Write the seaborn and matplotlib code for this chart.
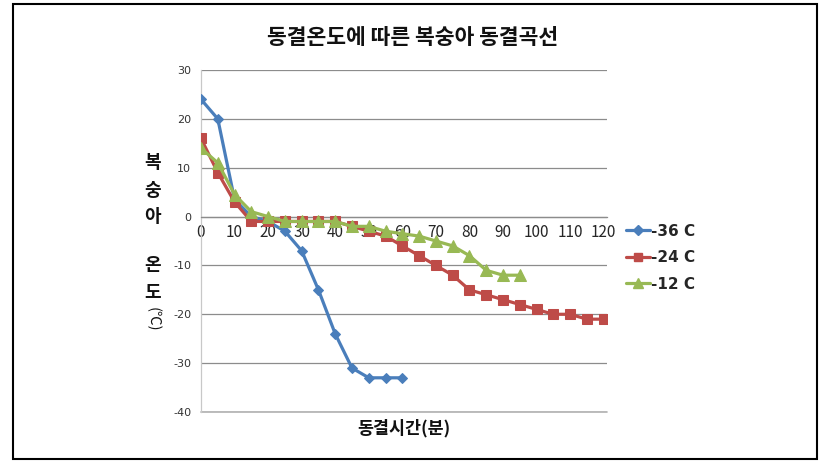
import matplotlib
matplotlib.use("Agg")
import matplotlib.pyplot as plt
import seaborn as sns
import pandas as pd
from matplotlib.lines import Line2D

# ---- data ----
series_names = ["-36 C", "-24 C", "-12 C"]
time_36 = [0, 5, 10, 15, 20, 25, 30, 35, 40, 45, 50, 55, 60]
temp_36 = [24, 20, 3.5, 0, -1, -3, -7, -15, -24, -31, -33, -33, -33]
time_24 = [0, 5, 10, 15, 20, 25, 30, 35, 40, 45, 50, 55, 60, 65, 70, 75, 80, 85,
           90, 95, 100, 105, 110, 115, 120]
temp_24 = [16, 9, 3, -1, -1, -1, -1, -1, -1, -2, -3, -4, -6, -8, -10, -12, -15,
           -16, -17, -18, -19, -20, -20, -21, -21]
time_12 = [0, 5, 10, 15, 20, 25, 30, 35, 40, 45, 50, 55, 60, 65, 70, 75, 80, 85, 90, 95]
temp_12 = [14, 11, 4.5, 1, 0, -1, -1, -1, -1, -2, -2, -3, -3.5, -4, -5, -6, -8,
           -11, -12, -12]
x_ticks = [0, 10, 20, 30, 40, 50, 60, 70, 80, 90, 100, 110, 120]
y_ticks = [30, 20, 10, 0, -10, -20, -30, -40]
title = "동결온도에 따른 복숭아 동결곡선"
x_label = "동결시간(분)"

df = pd.concat([
    pd.DataFrame({"time": time_36, "temp": temp_36, "series": series_names[0]}),
    pd.DataFrame({"time": time_24, "temp": temp_24, "series": series_names[1]}),
    pd.DataFrame({"time": time_12, "temp": temp_12, "series": series_names[2]}),
])

colors = {"-36 C": "#4A7EBB", "-24 C": "#BE4B48", "-12 C": "#98B954"}
markers = {"-36 C": "D", "-24 C": "s", "-12 C": "^"}
msizes = {"-36 C": 5.5, "-24 C": 7.5, "-12 C": 8.5}

sns.set_theme(style="white")
plt.rcParams["font.family"] = ["Noto Sans CJK KR", "DejaVu Sans"]
plt.rcParams["axes.unicode_minus"] = False

fig = plt.figure(figsize=(8.28, 4.62), dpi=100)
ax = fig.add_axes([201 / 828, 1 - 412 / 462, 406 / 828, 342 / 462])

for name in series_names:
    sub = df[df["series"] == name]
    sns.lineplot(data=sub, x="time", y="temp", ax=ax, color=colors[name],
                 marker=markers[name], markersize=msizes[name],
                 markeredgecolor=colors[name], linewidth=2.3, legend=False,
                 zorder=3)

ax.set_xlim(0, 121)
ax.set_ylim(-40, 30)
ax.set_yticks(y_ticks)
ax.set_yticklabels([str(v) for v in y_ticks], fontsize=8, color="#333333",
                   family=["DejaVu Sans"])
ax.set_xticks(x_ticks)
ax.set_xticklabels([str(v) for v in x_ticks], fontsize=8.5, color="#222222",
                   family=["DejaVu Sans"])
ax.grid(axis="y", color="#8c8c8c", linewidth=0.9)
ax.grid(axis="x", visible=False)
ax.set_axisbelow(True)
ax.axhline(-40, color="#b0b0b0", linewidth=1.2, clip_on=False, zorder=1)
ax.set_xlabel("")
ax.set_ylabel("")

for s in ["top", "right"]:
    ax.spines[s].set_visible(False)
ax.spines["left"].set_color("#c8c8c8")
ax.spines["left"].set_linewidth(0.9)
ax.spines["bottom"].set_position(("data", 0))
ax.spines["bottom"].set_color("#8c8c8c")
ax.spines["bottom"].set_linewidth(0.9)
ax.tick_params(axis="x", length=0, pad=5)
ax.tick_params(axis="y", length=0, pad=7)

# title and labels
fig.text(413 / 828, 1 - 38 / 462, title, ha="center", va="center",
         fontsize=15.5, fontweight="bold", color="#111111")
fig.text(404 / 828, 1 - 428 / 462, x_label, ha="center", va="center",
         fontsize=12.5, fontweight="bold", color="#111111")
ychars = [("복", 163), ("숭", 190), ("아", 217), ("온", 265), ("도", 292)]
for ch, yy in ychars:
    fig.text(153 / 828, 1 - yy / 462, ch, ha="center", va="center",
             fontsize=13, fontweight="bold", color="#111111")
fig.text(153 / 828, 1 - 319 / 462, "(℃)", ha="center", va="center",
         fontsize=10.5, color="#111111", rotation=270)

# legend
handles = [Line2D([0], [0], color=colors[n], marker=markers[n],
                  markersize=msizes[n] * 0.85, linewidth=2.3) for n in series_names]
leg = fig.legend(handles, series_names, loc="upper left",
                 bbox_to_anchor=(612 / 828, 1 - 210 / 462), frameon=False,
                 handlelength=1.6, handletextpad=0.05, labelspacing=0.75,
                 prop={"size": 11, "weight": "bold", "family": ["DejaVu Sans"]})

# outer frame
fig.add_artist(plt.Rectangle((13 / 828, 3.5 / 462), 804 / 828, 455 / 462,
                             transform=fig.transFigure, fill=False,
                             edgecolor="black", linewidth=1.5))

fig.savefig("out.png", dpi=100)
